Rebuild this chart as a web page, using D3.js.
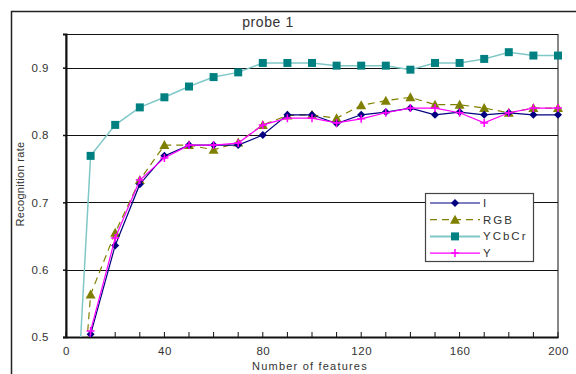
<!DOCTYPE html>
<html>
<head>
<meta charset="utf-8">
<script src="https://cdn.jsdelivr.net/npm/d3@7"></script>
<style>
  html, body { margin: 0; padding: 0; background: #fff; overflow: hidden; }
  svg { display: block; }
  text { font-family: "Liberation Sans", Arial, sans-serif; fill: #333; }
</style>
</head>
<body>
<div id="plot"></div>
<script>
// chart values
const features = [0, 10, 20, 30, 40, 50, 60, 70, 80, 90, 100, 110, 120, 130, 140, 150, 160, 170, 180, 190, 200];
const valI     = [0.1, 0.504, 0.636, 0.727, 0.769, 0.785, 0.785, 0.785, 0.800, 0.830, 0.830, 0.817, 0.830, 0.834, 0.840, 0.830, 0.834, 0.830, 0.833, 0.830, 0.830];
const valRGB   = [0.1, 0.563, 0.655, 0.733, 0.785, 0.785, 0.778, 0.789, 0.815, 0.829, 0.830, 0.825, 0.844, 0.851, 0.856, 0.845, 0.845, 0.840, 0.833, 0.840, 0.840];
const valYCbCr = [0.1, 0.769, 0.815, 0.841, 0.856, 0.872, 0.886, 0.893, 0.907, 0.907, 0.907, 0.903, 0.903, 0.903, 0.897, 0.907, 0.907, 0.913, 0.923, 0.918, 0.918];
const valY     = [0.1, 0.509, 0.647, 0.733, 0.766, 0.785, 0.785, 0.788, 0.815, 0.825, 0.825, 0.818, 0.824, 0.833, 0.840, 0.840, 0.833, 0.818, 0.833, 0.840, 0.840];
const xTicks = [0, 40, 80, 120, 160, 200];
const xMinor = [0, 10, 20, 30, 40, 50, 60, 70, 80, 90, 100, 110, 120, 130, 140, 150, 160, 170, 180, 190, 200];
const yTicks = [0.5, 0.6, 0.7, 0.8, 0.9];
const seriesNames = ["I", "RGB", "YCbCr", "Y"];

const w = 576, h = 374;
const margin = { top: 34, right: 18, bottom: 37, left: 66 };
const innerWidth = w - margin.left - margin.right;
const innerHeight = h - margin.top - margin.bottom;

// marker shapes, centred on 0,0
const shapes = {
  diamond: "M0,-4L4,0L0,4L-4,0Z",
  triangle: "M0,-5L5,4L-5,4Z",
  square: "M-4,-4H4V4H-4Z",
  plus: "M-4,0H4M0,-4V4"
};

const series = [
  { name: "I", values: valI, color: "#000080", line: "#000080", dash: null, shape: "diamond" },
  { name: "RGB", values: valRGB, color: "#808000", line: "#808000", dash: "7,5", shape: "triangle" },
  { name: "YCbCr", values: valYCbCr, color: "#008080", line: "#80c8c8", dash: null, shape: "square", wide: true },
  { name: "Y", values: valY, color: "#ff00ff", line: "#ff00ff", dash: null, shape: "plus" }
];

const svg = d3.select("div#plot").append("svg")
  .attr("width", w).attr("height", h);

// outer chart frame (only left and top edges are in view)
svg.append("path")
  .attr("d", `M11.5,${h}V11.5H${w}`)
  .attr("fill", "none").attr("stroke", "#222").attr("stroke-width", 1.5);

const xScale = d3.scaleLinear().domain([0, 200]).range([0, innerWidth]);
const yScale = d3.scaleLinear().domain([0.5, 0.95]).range([innerHeight, 0]);

const g = svg.append("g").attr("transform", `translate(${margin.left}, ${margin.top})`);

svg.append("text")
  .attr("x", 268).attr("y", 27)
  .attr("text-anchor", "middle")
  .attr("font-size", 14).attr("letter-spacing", 0.6)
  .text("probe 1");

// gridlines
g.selectAll(".grid").data(yTicks.slice(1))
  .enter().append("line")
  .attr("class", "grid")
  .attr("x1", 0).attr("x2", innerWidth)
  .attr("y1", d => Math.round(yScale(d)) + 0.5).attr("y2", d => Math.round(yScale(d)) + 0.5)
  .attr("stroke", "#111").attr("stroke-width", 1);

// plot frame
g.append("rect")
  .attr("x", 0).attr("y", 0.5)
  .attr("width", innerWidth).attr("height", innerHeight)
  .attr("fill", "none").attr("stroke", "#111").attr("stroke-width", 1);

// axes
const xAxis = d3.axisBottom(xScale).tickValues(xTicks).tickSize(0).tickPadding(10).tickFormat(d3.format("d"));
const yAxis = d3.axisLeft(yScale).tickValues(yTicks).tickSize(3).tickPadding(14).tickFormat(d3.format(".1f"));

const gx = g.append("g").attr("class", "xAxis")
  .attr("transform", `translate(0, ${innerHeight})`)
  .call(xAxis);
gx.select(".domain").attr("stroke", "#111").attr("stroke-width", 2);
gx.selectAll("text").attr("font-size", 11.5).attr("fill", "#333").attr("letter-spacing", 0.5);

g.append("g").selectAll("line").data(xMinor).enter().append("line")
  .attr("x1", d => xScale(d)).attr("x2", d => xScale(d))
  .attr("y1", innerHeight).attr("y2", innerHeight - 5)
  .attr("stroke", "#111");

const gy = g.append("g").attr("class", "yAxis").call(yAxis);
gy.select(".domain").attr("stroke", "#111").attr("stroke-width", 2);
gy.selectAll(".tick line").attr("stroke", "#111").attr("stroke-width", 1.5);
gy.selectAll("text").attr("font-size", 11.5).attr("fill", "#333").attr("letter-spacing", 0.5);

svg.append("text")
  .attr("x", 310).attr("y", 370)
  .attr("text-anchor", "middle")
  .attr("font-size", 11).attr("letter-spacing", 1.2)
  .text("Number of features");

svg.append("text")
  .attr("transform", "translate(24, 184) rotate(-90)")
  .attr("text-anchor", "middle")
  .attr("font-size", 11).attr("letter-spacing", 0.3)
  .text("Recognition rate");

// clip to plot
svg.append("defs").append("clipPath").attr("id", "clip")
  .append("rect").attr("x", 0).attr("y", -6).attr("width", innerWidth + 6).attr("height", innerHeight + 6);

const plotArea = g.append("g").attr("clip-path", "url(#clip)");
const lineGen = d3.line().x((d, i) => xScale(features[i])).y(d => yScale(d));

function drawMarker(sel, s) {
  if (s.shape === "plus") {
    sel.append("path")
      .attr("d", shapes.plus)
      .attr("stroke", s.color).attr("stroke-width", 1.5).attr("fill", "none");
  } else {
    sel.append("path")
      .attr("d", shapes[s.shape])
      .attr("fill", s.color);
  }
}

[2, 1, 0, 3].forEach(k => {
  const s = series[k];
  plotArea.append("path")
    .datum(s.values)
    .attr("d", lineGen)
    .attr("fill", "none")
    .attr("stroke", s.line)
    .attr("stroke-width", s.wide ? 1.5 : 1.2)
    .attr("stroke-dasharray", s.dash);
  s.values.forEach((v, i) => {
    if (v < 0.5) return;
    const m = plotArea.append("g").attr("transform", `translate(${xScale(features[i])}, ${yScale(v)})`);
    drawMarker(m, s);
  });
});

// legend
const legend = svg.append("g").attr("transform", "translate(425, 193)");
legend.append("rect")
  .attr("x", 0.5).attr("y", 0.5).attr("width", 108).attr("height", 68)
  .attr("fill", "#fff").attr("stroke", "#444").attr("stroke-width", 1.2);
series.forEach((s, i) => {
  const y = 10 + i * 16.7;
  legend.append("line")
    .attr("x1", 5).attr("x2", 55).attr("y1", y).attr("y2", y)
    .attr("stroke", s.line).attr("stroke-width", s.wide ? 2 : 1.2)
    .attr("stroke-dasharray", s.dash);
  const m = legend.append("g").attr("transform", `translate(30, ${y})`);
  drawMarker(m, s);
  legend.append("text")
    .attr("x", 58).attr("y", y + 4)
    .attr("font-size", 11.5).attr("letter-spacing", 2)
    .text(seriesNames[i]);
});
</script>
</body>
</html>
